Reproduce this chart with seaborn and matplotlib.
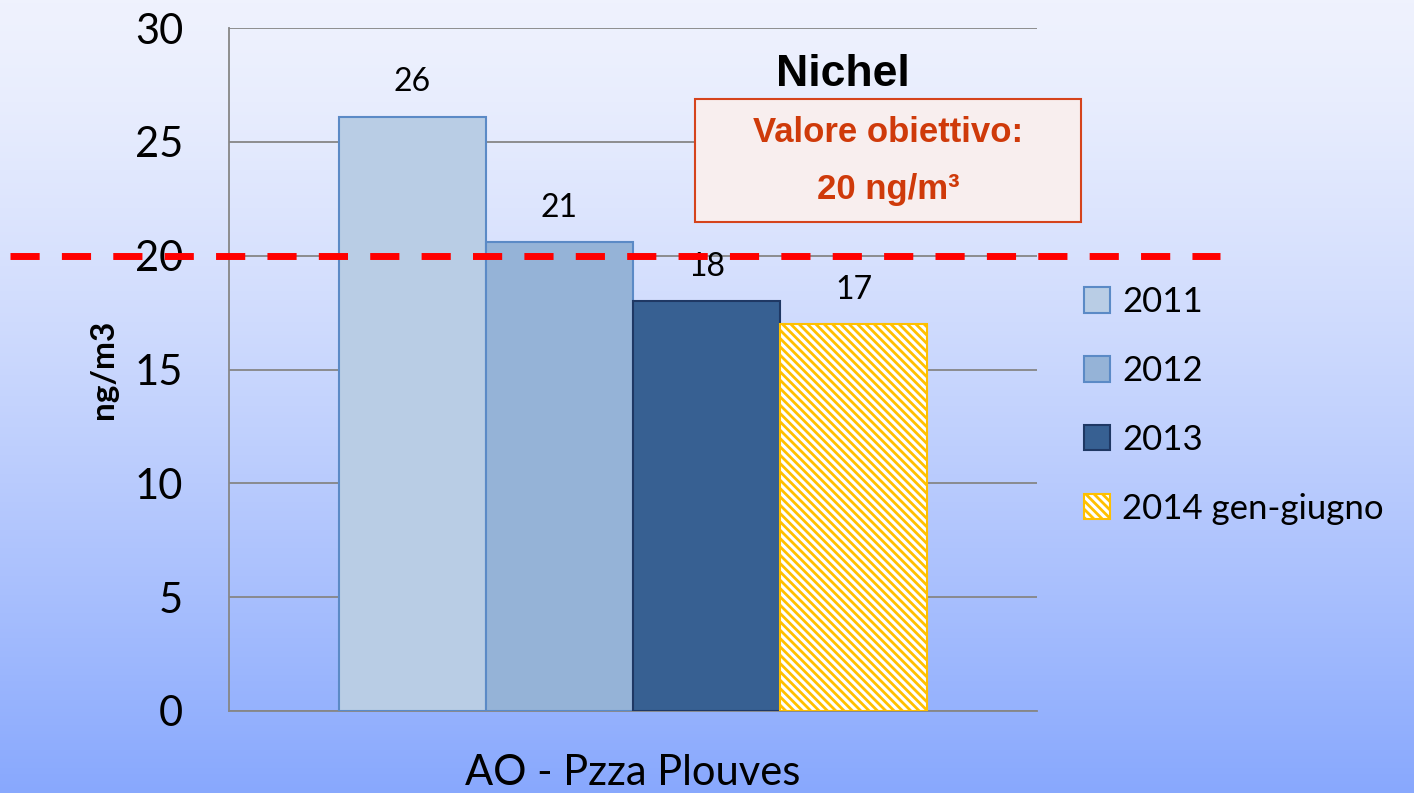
import numpy as np
import pandas as pd
import matplotlib.pyplot as plt
import matplotlib.patches as mpatches
import seaborn as sns

# data
station = "AO - Pzza Plouves"
years = ["2011", "2012", "2013", "2014 gen-giugno"]
values = [26.1, 20.6, 18.0, 17.0]
target = 20
yticks = [0, 5, 10, 15, 20, 25, 30]

fills = ["#B9CDE5", "#95B3D7", "#376092", "#FFFFFF"]
edges = ["#5B8AC6", "#5B8AC6", "#1F3864", "#FFC000"]

df = pd.DataFrame({"Stazione": [station] * len(years), "Anno": years, "Valore": values})

sns.set_style("white", {"text.color": "black", "axes.labelcolor": "black",
                        "xtick.color": "black", "ytick.color": "black"})
plt.rcParams["font.family"] = ["Lato", "DejaVu Sans"]
plt.rcParams["hatch.linewidth"] = 2.0

fig = plt.figure(figsize=(14.14, 7.93), dpi=100)

# blue gradient background
bg = fig.add_axes([0, 0, 1, 1], zorder=-10)
t = np.linspace(0, 1, 256)[:, None, None]
top = np.array([239, 242, 253]) / 255
bot = np.array([136, 168, 253]) / 255
grad = top + (bot - top) * t ** 1.3
bg.imshow(grad, aspect="auto", extent=[0, 1, 0, 1])
bg.axis("off")

ax = fig.add_axes([229 / 1414, 1 - 711 / 793, 808 / 1414, 683 / 793])
ax.set_facecolor("none")

sns.barplot(data=df, x="Stazione", y="Valore", hue="Anno", palette=fills,
            saturation=1, width=0.728, legend=False, ax=ax, zorder=3)

hatch = "\\\\\\\\"
for i, cont in enumerate(ax.containers):
    for bar in cont:
        bar.set_edgecolor(edges[i])
        bar.set_linewidth(1.5)
        if i == 3:
            bar.set_hatch(hatch)
    ax.bar_label(cont, labels=[f"{v:.0f}" for v in cont.datavalues],
                 padding=14, fontsize=23)

ax.set_xlim(-0.5, 0.5)
ax.set_ylim(0, 30)
ax.set_yticks(yticks)
ax.yaxis.grid(True, color="#868686", lw=1.3)
ax.xaxis.grid(False)
ax.set_axisbelow(True)
for s in ["top", "right"]:
    ax.spines[s].set_visible(False)
for s in ["left", "bottom"]:
    ax.spines[s].set_color("#868686")
    ax.spines[s].set_linewidth(1.3)

ax.tick_params(axis="y", length=10, color="#868686", width=1.3, labelsize=30, pad=23)
ax.tick_params(axis="x", which="major", length=0, labelsize=30, pad=31)
ax.set_xticks([-0.5, 0.5], minor=True)
ax.tick_params(axis="x", which="minor", length=8, color="#868686", width=1.3)

ax.set_xlabel("")
ax.set_ylabel("ng/m3", fontsize=24, fontweight="bold")
ax.yaxis.set_label_coords(-0.137, 0.5)

# objective threshold line
ax.axhline(target, xmin=-0.271, xmax=1.2265, color="red", lw=5,
           ls=(0, (4.2, 3.2)), clip_on=False, zorder=6)

# legend
handles = []
for i in range(len(years)):
    handles.append(mpatches.Patch(facecolor=fills[i], edgecolor=edges[i], lw=1.5,
                                  hatch=hatch if i == 3 else None))
fig.legend(handles, years, loc="upper left", bbox_to_anchor=(1053 / 1414, 1 - 255 / 793),
           frameon=False, fontsize=25, handlelength=0.75, handleheight=0.75,
           labelspacing=1.06, handletextpad=0.35)

# title and annotation box
fig.text(843 / 1414, 1 - 75 / 793, "Nichel", fontsize=32, fontweight="bold",
         family="Liberation Sans", ha="center", va="center")
box = mpatches.Rectangle((695 / 1414, 1 - 222 / 793), 386 / 1414, 123 / 793,
                         transform=fig.transFigure, facecolor="#F8EEEE",
                         edgecolor="#D5431C", lw=1.5)
fig.add_artist(box)
fig.text(888 / 1414, 1 - 133 / 793, "Valore obiettivo:", fontsize=25, fontweight="bold",
         family="Liberation Sans", color="#CF3A0A", ha="center", va="center")
fig.text(888 / 1414, 1 - 190 / 793, "20 ng/m³", fontsize=25, fontweight="bold",
         family="Liberation Sans", color="#CF3A0A", ha="center", va="center")

fig.savefig("out.png", dpi=100)
